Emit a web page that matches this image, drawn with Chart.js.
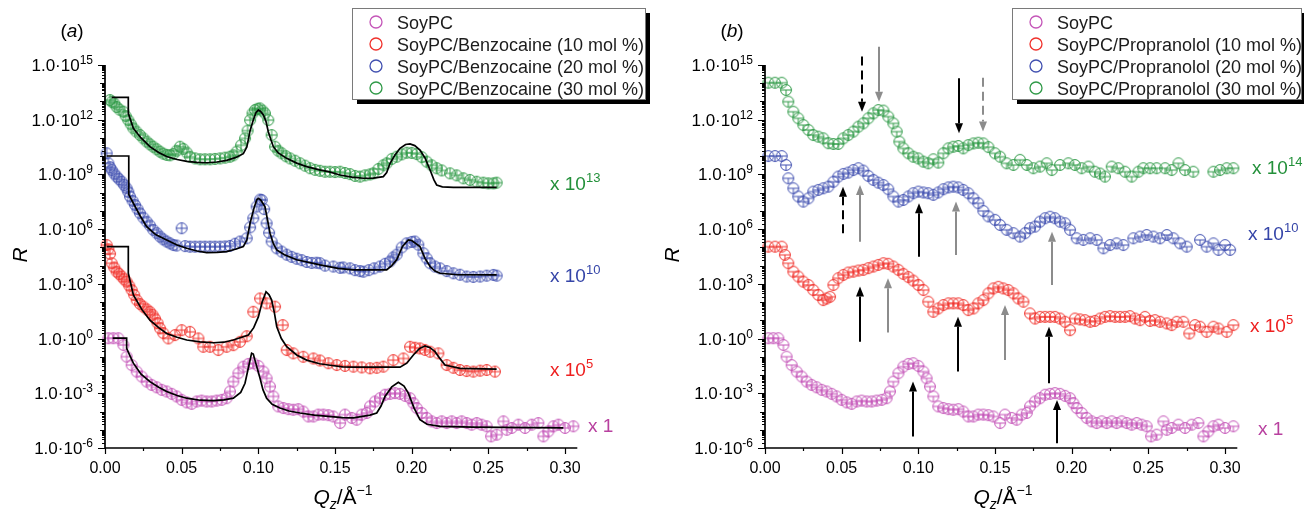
<!DOCTYPE html>
<html>
<head>
<meta charset="utf-8">
<script src="https://cdn.jsdelivr.net/npm/chart.js@4.4.0/dist/chart.umd.min.js"></script>
<style>
  html, body { margin: 0; padding: 0; background: #fff; }
  #wrap { position: relative; width: 1304px; height: 511px; }
  .panel { position: absolute; top: 0; width: 652px; height: 511px; }
</style>
</head>
<body>
<div id="wrap">
  <div class="panel" style="left:0"><canvas id="chartA" width="652" height="511"></canvas></div>
  <div class="panel" style="left:652px"><canvas id="chartB" width="652" height="511"></canvas></div>
</div>
<script>
// ---- data: [Qz, log10 R] before the vertical offset is applied ----
const xTicks = [0, 0.05, 0.10, 0.15, 0.20, 0.25, 0.30];
const xTickLabels = ['0.00', '0.05', '0.10', '0.15', '0.20', '0.25', '0.30'];
const yLabelExps = [-6, -3, 0, 3, 6, 9, 12, 15];

const namesA = ['SoyPC', 'SoyPC/Benzocaine (10 mol %)', 'SoyPC/Benzocaine (20 mol %)', 'SoyPC/Benzocaine (30 mol %)'];
const namesB = ['SoyPC', 'SoyPC/Propranolol (10 mol %)', 'SoyPC/Propranolol (20 mol %)', 'SoyPC/Propranolol (30 mol %)'];
const offsetsA = [0, 5, 10, 13];   // plotted as x 1, x 10^5, x 10^10, x 10^13
const offsetsB = [0, 5, 10, 14];

const soyPC = [[.0022,0.02],[.0054,0.02],[.0087,0.02],[.0120,-0.35],[.0141,-0.99],[.0174,-1.45],[.0207,-1.81],[.0239,-2.08],[.0272,-2.36],[.0304,-2.54],[.0337,-2.67],[.0370,-2.81],[.0402,-2.9],[.0435,-3.03],[.0467,-3.17],[.05,-3.36],[.0533,-3.5],[.0565,-3.58],[.0598,-3.45],[.0630,-3.4],[.0663,-3.45],[.0696,-3.45],[.0728,-3.4],[.0761,-3.36],[.0793,-3.27],[.0815,-2.9],[.0837,-2.36],[.0870,-1.9],[.0902,-1.54],[.0935,-1.39],[.0967,-1.35],[.1,-1.5],[.1033,-1.81],[.1054,-2.18],[.1076,-2.63],[.1098,-3.17],[.1130,-3.72],[.1163,-3.81],[.1196,-3.87],[.1228,-3.9],[.1261,-3.87],[.1293,-4.0],[.1326,-4.27],[.1359,-4.27],[.1391,-4.17],[.1424,-4.17],[.1457,-4.2],[.1489,-4.27],[.1533,-4.63],[.1565,-4.17],[.1609,-4.35],[.1641,-4.45],[.1674,-4.17],[.1707,-4.08],[.1728,-3.72],[.1761,-3.45],[.1793,-3.27],[.1826,-3.08],[.1859,-3.03],[.1891,-2.99],[.1924,-3.03],[.1957,-3.14],[.1989,-3.27],[.2011,-3.54],[.2033,-3.81],[.2065,-4.08],[.2098,-4.35],[.2130,-4.54],[.2163,-4.63],[.2196,-4.54],[.2228,-4.63],[.2261,-4.54],[.2293,-4.63],[.2326,-4.54],[.2359,-4.63],[.2391,-4.72],[.2424,-4.63],[.2456,-4.72],[.2489,-4.81],[.2518,-5.36],[.2554,-5.27],[.2598,-4.54],[.2620,-5.0],[.2652,-4.9],[.2696,-4.72],[.2739,-4.9],[.2783,-4.72],[.2826,-4.63],[.2859,-5.36],[.2891,-5.09],[.2924,-4.81],[.2957,-4.72],[.3,-4.9],[.3054,-4.81]];

const benzo10 = [[.0011,0.13],[.0022,-0.1],[.0033,-0.35],[.0044,-0.87],[.006,-1.1],[.0076,-1.33],[.0092,-1.45],[.0109,-1.6],[.0125,-1.75],[.0141,-1.88],[.0158,-2.1],[.0174,-2.34],[.019,-2.6],[.0207,-2.89],[.0228,-3.1],[.025,-3.25],[.0272,-3.4],[.0293,-3.53],[.031,-3.7],[.0326,-3.9],[.0343,-4.15],[.0359,-4.44],[.038,-4.7],[.0413,-4.99],[.0456,-4.81],[.05,-4.54],[.0554,-4.63],[.0609,-4.99],[.0641,-5.45],[.0685,-5.45],[.0739,-5.63],[.0793,-5.45],[.0837,-5.36],[.088,-5.18],[.0924,-4.87],[.0967,-3.53],[.1011,-2.8],[.1054,-3.07],[.1109,-3.25],[.1159,-4.26],[.1185,-5.63],[.1228,-5.81],[.1293,-6.0],[.1359,-6.09],[.1402,-6.2],[.1457,-6.35],[.1511,-6.45],[.1565,-6.5],[.162,-6.54],[.1674,-6.58],[.1728,-6.63],[.1772,-6.6],[.1815,-6.54],[.188,-6.18],[.1946,-6.09],[.1989,-5.45],[.2021,-5.5],[.2054,-5.54],[.2087,-5.62],[.212,-5.72],[.2174,-5.81],[.2228,-6.45],[.2272,-6.6],[.2315,-6.72],[.2358,-6.78],[.2402,-6.81],[.2446,-6.76],[.2489,-6.72],[.2543,-6.81]];

const benzo20 = [[.0011,0.16],[.0022,-0.39],[.0033,-0.6],[.0044,-0.76],[.006,-0.95],[.0076,-1.12],[.0092,-1.26],[.0109,-1.4],[.0125,-1.58],[.0141,-1.76],[.0152,-1.95],[.0163,-2.21],[.018,-2.45],[.0196,-2.67],[.0212,-2.9],[.0228,-3.13],[.025,-3.37],[.0272,-3.59],[.0293,-3.8],[.0315,-4.04],[.0337,-4.22],[.0359,-4.41],[.038,-4.56],[.0402,-4.68],[.0424,-4.78],[.0446,-4.87],[.0467,-4.9],[.05,-3.95],[.0522,-4.93],[.0554,-4.96],[.0587,-4.96],[.062,-4.96],[.0652,-4.96],[.0685,-4.96],[.0717,-4.96],[.075,-4.96],[.0783,-4.95],[.0815,-4.92],[.0848,-4.8],[.088,-4.68],[.0924,-4.5],[.0946,-3.9],[.0967,-3.4],[.0989,-2.76],[.1011,-2.38],[.1022,-2.4],[.1038,-2.9],[.1054,-3.68],[.107,-4.2],[.1087,-4.68],[.112,-5.05],[.1152,-5.23],[.1185,-5.4],[.1217,-5.52],[.125,-5.62],[.1283,-5.7],[.1315,-5.8],[.1348,-5.85],[.138,-5.84],[.1402,-5.87],[.1435,-6.0],[.1489,-6.05],[.1533,-6.12],[.1554,-6.1],[.1598,-6.15],[.163,-6.25],[.1663,-6.3],[.1685,-6.33],[.172,-6.25],[.1755,-6.15],[.1793,-6.05],[.1826,-5.9],[.1859,-5.77],[.188,-5.55],[.1902,-5.4],[.1935,-5.0],[.1967,-4.78],[.2,-4.7],[.2021,-4.68],[.2043,-4.85],[.2076,-5.32],[.2098,-5.6],[.212,-5.87],[.2152,-6.05],[.2185,-6.15],[.2228,-6.3],[.2272,-6.42],[.2315,-6.5],[.2359,-6.6],[.2402,-6.62],[.2446,-6.6],[.2489,-6.55],[.2533,-6.51],[.2554,-6.55]];

const benzo30 = [[.0033,0.08],[.0044,-0.01],[.0060,-0.1],[.0076,-0.3],[.0095,-0.45],[.012,-0.56],[.0135,-0.8],[.0152,-1.02],[.0168,-1.25],[.0185,-1.47],[.0205,-1.65],[.0228,-1.84],[.025,-2.02],[.0272,-2.2],[.0293,-2.35],[.0315,-2.48],[.0337,-2.62],[.0359,-2.75],[.038,-2.86],[.0402,-2.93],[.0424,-2.95],[.0446,-2.88],[.0467,-2.7],[.0489,-2.48],[.0511,-2.6],[.0533,-2.8],[.0554,-3.03],[.0587,-3.12],[.062,-3.17],[.0652,-3.17],[.0685,-3.17],[.0717,-3.15],[.075,-3.12],[.0783,-3.08],[.0815,-3.03],[.0837,-2.95],[.0859,-2.75],[.0887,-2.4],[.0913,-2.02],[.093,-1.6],[.0946,-1.02],[.0962,-0.65],[.0978,-0.47],[.0995,-0.4],[.101,-0.38],[.1027,-0.5],[.1043,-0.65],[.1065,-1.02],[.1087,-1.84],[.1109,-2.48],[.113,-2.7],[.1152,-2.84],[.118,-3.0],[.1207,-3.12],[.124,-3.25],[.1272,-3.39],[.1305,-3.52],[.1337,-3.66],[.137,-3.75],[.1402,-3.8],[.1435,-3.85],[.1467,-3.85],[.15,-3.87],[.1533,-3.85],[.1565,-3.92],[.1598,-3.98],[.163,-4.08],[.1663,-4.12],[.1696,-4.05],[.1728,-4.0],[.175,-3.94],[.1783,-3.7],[.1815,-3.5],[.1837,-3.39],[.187,-3.15],[.1902,-3.03],[.1935,-2.9],[.1967,-2.81],[.2,-2.82],[.2033,-2.88],[.2065,-3.05],[.2098,-3.3],[.213,-3.5],[.2163,-3.66],[.2196,-3.78],[.225,-3.94],[.2293,-4.05],[.2337,-4.21],[.238,-4.3],[.2424,-4.4],[.2467,-4.45],[.25,-4.49],[.2533,-4.49],[.2554,-4.45]];

// model fits, panel (a)
const soyPCFit = [[.005,0.02],[.0141,0.02],[.0141,-0.53],[.0163,-0.95],[.0185,-1.35],[.0235,-1.95],[.0293,-2.36],[.035,-2.67],[.0402,-2.9],[.047,-3.12],[.0533,-3.27],[.062,-3.38],[.0707,-3.4],[.0775,-3.36],[.0837,-3.27],[.0885,-2.95],[.0913,-2.45],[.0935,-1.6],[.0956,-0.8],[.0967,-0.85],[.0985,-1.4],[.1011,-2.18],[.103,-2.8],[.1054,-3.27],[.109,-3.6],[.1141,-3.81],[.12,-3.97],[.1272,-4.08],[.1365,-4.2],[.1457,-4.27],[.155,-4.33],[.162,-4.35],[.1728,-4.2],[.1772,-4.08],[.18,-3.7],[.1826,-3.17],[.187,-2.65],[.1913,-2.4],[.195,-2.6],[.1978,-2.99],[.2015,-3.8],[.2054,-4.45],[.21,-4.7],[.2185,-4.81],[.24,-4.86],[.2989,-4.9]];
const benzo10Fit = [[.0011,0.04],[.0152,0.04],[.0152,-1.42],[.0185,-2.61],[.024,-3.4],[.0293,-3.99],[.035,-4.4],[.0402,-4.72],[.047,-4.93],[.0533,-5.08],[.062,-5.18],[.0707,-5.23],[.0775,-5.2],[.0837,-5.08],[.0935,-4.81],[.097,-4.4],[.1,-3.81],[.1025,-3.0],[.105,-2.43],[.107,-2.6],[.1087,-2.89],[.1105,-3.6],[.112,-4.35],[.115,-5.0],[.1185,-5.45],[.125,-5.9],[.1315,-6.18],[.14,-6.38],[.1457,-6.45],[.155,-6.55],[.162,-6.57],[.18,-6.57],[.1924,-6.57],[.1968,-6.35],[.2011,-5.9],[.205,-5.55],[.2087,-5.4],[.212,-5.5],[.2152,-5.72],[.2185,-6.1],[.2217,-6.45],[.2315,-6.63],[.2554,-6.67]];
const benzo20Fit = [[.0011,0.01],[.0155,0.01],[.0155,-2.1],[.0185,-2.58],[.0228,-3.25],[.0272,-3.86],[.033,-4.3],[.0402,-4.59],[.047,-4.87],[.0533,-5.05],[.06,-5.2],[.0663,-5.29],[.073,-5.27],[.0793,-5.23],[.085,-5.1],[.0902,-4.96],[.0925,-4.6],[.0946,-3.68],[.097,-2.9],[.0989,-2.4],[.1,-2.31],[.1015,-2.4],[.1043,-2.76],[.106,-3.5],[.1076,-4.22],[.1098,-4.8],[.112,-5.14],[.117,-5.4],[.125,-5.68],[.1402,-5.96],[.152,-6.15],[.162,-6.23],[.1728,-6.23],[.1837,-6.23],[.187,-6.0],[.1902,-5.68],[.194,-4.95],[.1978,-4.59],[.2,-4.62],[.2054,-4.96],[.2087,-5.6],[.212,-6.05],[.2152,-6.3],[.2185,-6.42],[.23,-6.5],[.2554,-6.51]];
const benzo30Fit = [[.0044,0.23],[.0152,0.23],[.0152,-0.65],[.0185,-1.47],[.0235,-2.0],[.0293,-2.48],[.035,-2.8],[.0402,-3.02],[.047,-3.18],[.0533,-3.28],[.06,-3.34],[.0663,-3.36],[.073,-3.32],[.0793,-3.23],[.085,-3.08],[.0902,-2.86],[.0925,-2.5],[.0946,-1.6],[.0967,-1.02],[.0985,-0.6],[.1,-0.47],[.1015,-0.55],[.1033,-0.74],[.105,-1.1],[.1065,-1.66],[.1082,-2.1],[.1098,-2.48],[.113,-2.82],[.1185,-3.12],[.125,-3.38],[.1315,-3.57],[.14,-3.75],[.1457,-3.85],[.1533,-4.03],[.161,-4.15],[.1685,-4.21],[.175,-4.2],[.1815,-4.12],[.1837,-3.9],[.1859,-3.39],[.189,-2.95],[.1924,-2.57],[.196,-2.36],[.1989,-2.33],[.202,-2.42],[.2054,-2.66],[.2087,-3.1],[.212,-3.76],[.2145,-4.3],[.2163,-4.58],[.22,-4.68],[.2272,-4.71],[.24,-4.71],[.2554,-4.71]];

const prop10 = [[.0022,0.04],[.0065,0.04],[.0109,0.04],[.013,-0.41],[.0152,-0.87],[.0185,-1.33],[.0217,-1.6],[.025,-1.88],[.0283,-2.06],[.0315,-2.34],[.0348,-2.61],[.038,-2.89],[.0402,-2.8],[.0424,-2.71],[.0446,-2.06],[.0478,-1.69],[.0511,-1.51],[.0543,-1.38],[.0576,-1.33],[.0609,-1.27],[.0641,-1.23],[.0674,-1.14],[.0707,-1.05],[.0739,-0.96],[.0772,-0.87],[.0804,-0.9],[.0837,-1.05],[.087,-1.23],[.0902,-1.45],[.0935,-1.63],[.0967,-1.82],[.1,-2.06],[.1033,-2.34],[.1065,-2.98],[.1098,-3.53],[.113,-3.35],[.1163,-3.16],[.1196,-3.07],[.1228,-3.07],[.1261,-3.07],[.1293,-3.16],[.1326,-3.44],[.1359,-3.35],[.1391,-3.07],[.1424,-2.89],[.1457,-2.52],[.1489,-2.25],[.1522,-2.16],[.1554,-2.25],[.1587,-2.34],[.162,-2.52],[.1652,-2.8],[.1685,-2.98],[.1728,-3.62],[.1761,-3.9],[.1793,-3.81],[.1826,-3.81],[.1859,-3.81],[.1891,-3.81],[.1924,-3.9],[.1957,-4.08],[.1989,-4.54],[.2021,-3.9],[.2054,-3.95],[.2087,-3.99],[.212,-4.08],[.2152,-4.03],[.2185,-3.9],[.2217,-3.81],[.225,-3.77],[.2283,-3.81],[.2315,-3.81],[.2348,-3.81],[.238,-3.77],[.2413,-3.9],[.2446,-3.99],[.2478,-3.81],[.2511,-4.03],[.2543,-3.99],[.2576,-4.08],[.262,-4.17],[.2652,-4.26],[.2685,-4.08],[.2728,-4.08],[.2767,-4.72],[.2804,-4.26],[.2837,-4.35],[.288,-4.63],[.2924,-4.35],[.2957,-4.45],[.3011,-4.63],[.3054,-4.26]];

const prop20 = [[.0022,0.01],[.0065,0.01],[.0109,0.01],[.0137,-0.48],[.0152,-1.21],[.0185,-1.76],[.0217,-2.21],[.025,-2.49],[.0283,-2.31],[.0315,-1.94],[.0348,-1.85],[.038,-1.76],[.0413,-1.67],[.0446,-1.4],[.0478,-1.12],[.0511,-0.97],[.0543,-0.9],[.0576,-0.76],[.0609,-0.66],[.0641,-0.79],[.0674,-1.08],[.0707,-1.3],[.0739,-1.45],[.0772,-1.58],[.0804,-1.81],[.0837,-2.21],[.087,-2.49],[.0902,-2.4],[.0935,-2.21],[.0967,-2.03],[.1,-1.94],[.1033,-1.99],[.1065,-2.03],[.1098,-2.12],[.113,-1.99],[.1163,-1.81],[.1196,-1.71],[.1228,-1.67],[.1261,-1.71],[.1293,-1.85],[.1326,-2.03],[.1359,-2.31],[.1391,-2.58],[.1424,-3.0],[.1457,-3.3],[.15,-3.49],[.1533,-3.77],[.1576,-4.04],[.162,-4.22],[.1663,-4.41],[.1696,-4.22],[.1728,-3.95],[.1761,-3.86],[.1793,-3.59],[.1826,-3.4],[.1859,-3.32],[.1891,-3.4],[.1924,-3.59],[.1957,-3.68],[.1989,-4.04],[.2033,-4.5],[.2076,-4.59],[.212,-4.5],[.2163,-4.59],[.2207,-5.05],[.225,-4.87],[.2293,-4.78],[.2337,-4.87],[.2402,-4.5],[.2446,-4.41],[.2489,-4.32],[.2533,-4.41],[.2576,-4.5],[.262,-4.32],[.2663,-4.5],[.2707,-4.78],[.275,-4.96],[.2837,-4.59],[.288,-4.96],[.2924,-4.78],[.2957,-5.14],[.3,-4.87],[.3033,-5.14]];

const prop30 = [[.0022,0.03],[.0065,0.03],[.0109,0.03],[.0137,-0.37],[.0152,-1.01],[.0185,-1.56],[.0217,-1.92],[.025,-2.29],[.0283,-2.56],[.0315,-2.84],[.0348,-2.93],[.038,-3.02],[.0413,-3.29],[.0446,-3.33],[.0478,-3.33],[.0511,-3.02],[.0543,-2.84],[.0576,-2.65],[.0609,-2.38],[.0641,-2.2],[.0674,-1.92],[.0707,-1.65],[.0739,-1.47],[.0772,-1.5],[.0804,-1.83],[.0837,-2.2],[.0859,-2.65],[.0876,-3.2],[.0902,-3.57],[.0935,-3.84],[.0967,-4.03],[.1,-4.12],[.1033,-4.3],[.1065,-4.39],[.1098,-4.17],[.113,-4.35],[.1163,-3.84],[.1196,-3.57],[.1228,-3.48],[.1261,-3.44],[.1293,-3.57],[.1326,-3.39],[.1359,-3.3],[.1391,-3.26],[.1424,-3.3],[.1457,-3.5],[.15,-3.84],[.1533,-4.03],[.1576,-4.39],[.162,-4.48],[.1663,-4.2],[.1707,-4.48],[.175,-4.66],[.1793,-4.57],[.1837,-4.39],[.187,-4.76],[.1924,-4.48],[.1978,-4.39],[.2021,-4.48],[.2065,-4.66],[.2109,-4.57],[.2152,-4.85],[.2185,-4.95],[.2217,-5.12],[.2261,-4.57],[.2304,-4.66],[.2348,-4.85],[.2391,-5.12],[.2435,-4.85],[.2467,-4.66],[.2511,-4.66],[.2554,-4.66],[.2609,-4.66],[.2652,-4.76],[.2696,-4.39],[.2739,-4.76],[.2793,-4.85],[.2924,-4.85],[.2967,-4.76],[.3011,-4.66],[.3054,-4.66]];

// peak markers in panel (b): Qz, start and tip in plotted log10 R
const arrowsB = [
  { q: .0635, from: 15.46, to: 12.44, gray: false, dashed: true },
  { q: .0746, from: 16.0,  to: 12.99, gray: true,  dashed: false },
  { q: .1268, from: 14.27, to: 11.26, gray: false, dashed: false },
  { q: .1420, from: 14.3,  to: 11.35, gray: true,  dashed: true },
  { q: .0507, from: 5.77,  to: 8.33,  gray: false, dashed: true },
  { q: .0620, from: 5.31,  to: 8.42,  gray: true,  dashed: false },
  { q: .1007, from: 4.49,  to: 7.42,  gray: false, dashed: false },
  { q: .1246, from: 4.58,  to: 7.51,  gray: true,  dashed: false },
  { q: .1870, from: 2.94,  to: 5.86,  gray: true,  dashed: false },
  { q: .0620, from: -0.17, to: 2.85,  gray: false, dashed: false },
  { q: .0804, from: 0.33,  to: 3.31,  gray: true,  dashed: false },
  { q: .1257, from: -1.81, to: 1.2,   gray: false, dashed: false },
  { q: .1565, from: -1.17, to: 1.84,  gray: true,  dashed: false },
  { q: .1854, from: -2.45, to: 0.65,  gray: false, dashed: false },
  { q: .0967, from: -5.37, to: -2.36, gray: false, dashed: false },
  { q: .1907, from: -5.74, to: -3.37, gray: false, dashed: false }
];

// ---- styling ----
const FONT = '"Liberation Sans", Arial, Helvetica, sans-serif';
const markerColors = ['#c455b8', '#f0322c', '#4150b0', '#2f9a47'];
const textColors = ['#b8409f', '#ee2020', '#3545a8', '#23903a'];

function font(size, italic) {
  return (italic ? 'italic ' : '') + size + 'px ' + FONT;
}

function makeMarker(color, kind) {
  const c = document.createElement('canvas');
  c.width = 14; c.height = 14;
  const g = c.getContext('2d');
  g.strokeStyle = color;
  g.lineWidth = 1;
  g.beginPath();
  g.arc(7, 7, 5.4, 0, Math.PI * 2);
  g.moveTo(1.6, 7); g.lineTo(12.4, 7);
  if (kind === 'plus') { g.moveTo(7, 1.6); g.lineTo(7, 12.4); }
  else { g.moveTo(7, 7); g.lineTo(7, 12.4); }
  g.stroke();
  return c;
}

function toPoints(arr, off) {
  return arr.map(p => ({ x: p[0], y: Math.pow(10, p[1] + off) }));
}

// text made of runs with their own size / offset
function drawRuns(ctx, runs, x, y, align) {
  let total = 0;
  runs.forEach(r => {
    ctx.font = font(r.size, r.italic);
    r.w = ctx.measureText(r.t).width;
    total += r.w + (r.gap || 0);
  });
  let cx = align === 'right' ? x - total : align === 'center' ? x - total / 2 : x;
  ctx.textAlign = 'left';
  ctx.textBaseline = 'alphabetic';
  runs.forEach(r => {
    ctx.font = font(r.size, r.italic);
    ctx.fillText(r.t, cx, y + (r.dy || 0));
    cx += r.w + (r.gap || 0);
  });
}

function drawAxes(chart) {
  const { ctx, chartArea: a } = chart;
  const xs = chart.scales.x, ys = chart.scales.y;
  ctx.save();
  ctx.strokeStyle = '#000';
  ctx.fillStyle = '#000';
  ctx.lineWidth = 1.2;
  ctx.beginPath();
  for (let n = -6; n <= 15; n++) {
    for (let k = 1; k <= 9; k++) {
      if (n === 15 && k > 1) break;
      const py = Math.round(ys.getPixelForValue(k * Math.pow(10, n))) + 0.5;
      const len = k === 1 ? (n % 3 === 0 ? 7 : 5) : 3;
      ctx.moveTo(a.left, py);
      ctx.lineTo(a.left - len, py);
    }
  }
  xTicks.forEach((q, i) => {
    const px = Math.round(xs.getPixelForValue(q)) + 0.5;
    ctx.moveTo(px, a.bottom); ctx.lineTo(px, a.bottom + 6);
    if (i < xTicks.length - 1) {
      const pm = Math.round(xs.getPixelForValue(q + 0.025)) + 0.5;
      ctx.moveTo(pm, a.bottom); ctx.lineTo(pm, a.bottom + 3);
    }
  });
  ctx.stroke();
  ctx.lineWidth = 1.7;
  ctx.beginPath();
  ctx.moveTo(a.left, a.top);
  ctx.lineTo(a.left, a.bottom);
  ctx.lineTo(a.right, a.bottom);
  ctx.stroke();

  yLabelExps.forEach(e => {
    const py = ys.getPixelForValue(Math.pow(10, e));
    drawRuns(ctx, [{ t: '1.0\u00b710', size: 17 }, { t: String(e), size: 12, dy: -7 }], a.left - 12, py + 6, 'right');
  });
  ctx.font = font(16);
  ctx.textAlign = 'center';
  xTicks.forEach((q, i) => {
    ctx.fillText(xTickLabels[i], xs.getPixelForValue(q), a.bottom + 25);
  });

  // axis titles
  drawRuns(ctx, [
    { t: 'Q', size: 21, italic: true },
    { t: 'z', size: 14, italic: true, dy: 5 },
    { t: '/\u00c5', size: 21 },
    { t: '\u22121', size: 14, dy: -9 }
  ], a.left + 238, 504, 'center');
  ctx.save();
  ctx.translate(20, 255);
  ctx.rotate(-Math.PI / 2);
  ctx.font = font(21, true);
  ctx.textAlign = 'center';
  ctx.fillText('R', 0, 7);
  ctx.restore();
  ctx.restore();
}

function drawLegend(ctx, box, names) {
  ctx.save();
  ctx.fillStyle = '#000';
  ctx.fillRect(box.x + 5, box.y + 5, box.w, box.h);
  ctx.fillStyle = '#fff';
  ctx.fillRect(box.x, box.y, box.w, box.h);
  ctx.strokeStyle = '#7a7a7a';
  ctx.lineWidth = 1;
  ctx.strokeRect(box.x + 0.5, box.y + 0.5, box.w, box.h);
  names.forEach((n, i) => {
    const cy = box.y + 14 + i * 22;
    ctx.strokeStyle = markerColors[i];
    ctx.lineWidth = 1.3;
    ctx.beginPath();
    ctx.arc(box.x + 24, cy, 6, 0, Math.PI * 2);
    ctx.stroke();
    ctx.fillStyle = '#1c1c1c';
    ctx.font = font(18);
    ctx.textAlign = 'left';
    ctx.fillText(n, box.x + 45, cy + 6.5);
  });
  ctx.restore();
}

function drawFactor(ctx, color, exp, x, y) {
  ctx.save();
  ctx.fillStyle = color;
  if (exp === 0) drawRuns(ctx, [{ t: 'x 1', size: 19 }], x, y, 'left');
  else drawRuns(ctx, [{ t: 'x 10', size: 19 }, { t: String(exp), size: 13, dy: -8 }], x, y, 'left');
  ctx.restore();
}

function drawArrow(ctx, px, y1, y2, color, dashed) {
  const dir = y2 > y1 ? 1 : -1;
  const head = 10;
  ctx.save();
  ctx.strokeStyle = color;
  ctx.fillStyle = color;
  ctx.lineWidth = 2;
  if (dashed) ctx.setLineDash([9, 5]);
  ctx.beginPath();
  ctx.moveTo(px, y1);
  ctx.lineTo(px, y2 - dir * head);
  ctx.stroke();
  ctx.setLineDash([]);
  ctx.beginPath();
  ctx.moveTo(px, y2);
  ctx.lineTo(px - 4, y2 - dir * head);
  ctx.lineTo(px + 4, y2 - dir * head);
  ctx.closePath();
  ctx.fill();
  ctx.restore();
}

function panelPlugin(cfg) {
  return {
    id: 'panel' + cfg.tag,
    afterDatasetsDraw(chart) {
      drawAxes(chart);
      const ctx = chart.ctx;
      if (cfg.arrows) {
        const xs = chart.scales.x, ys = chart.scales.y;
        cfg.arrows.forEach(ar => {
          drawArrow(ctx, Math.round(xs.getPixelForValue(ar.q)),
            ys.getPixelForValue(Math.pow(10, ar.from)),
            ys.getPixelForValue(Math.pow(10, ar.to)),
            ar.gray ? '#8c8c8c' : '#000', ar.dashed);
        });
      }
    },
    afterDraw(chart) {
      const ctx = chart.ctx;
      drawLegend(ctx, cfg.legend, cfg.names);
      cfg.factors.forEach((f, i) => drawFactor(ctx, textColors[i], cfg.offsets[i], f[0], f[1]));
      ctx.save();
      ctx.fillStyle = '#000';
      drawRuns(ctx, [{ t: '(', size: 19 }, { t: cfg.tag, size: 19, italic: true }, { t: ')', size: 19 }], cfg.tagX, 37, 'center');
      ctx.restore();
    }
  };
}

function buildChart(id, cfg) {
  const datasets = [];
  cfg.series.forEach((s, i) => {
    datasets.push({
      label: cfg.names[i],
      data: toPoints(s, cfg.offsets[i]),
      pointStyle: makeMarker(markerColors[i], cfg.marker),
      pointRadius: 5,
      showLine: false,
      clip: 10,
      order: 1
    });
  });
  (cfg.fits || []).forEach((s, i) => {
    datasets.push({
      label: cfg.names[i] + ' fit',
      data: toPoints(s, cfg.offsets[i]),
      showLine: true,
      borderColor: '#000',
      borderWidth: 1.7,
      pointRadius: 0,
      tension: 0,
      clip: 10,
      order: 0
    });
  });
  return new Chart(document.getElementById(id), {
    type: 'scatter',
    data: { datasets },
    options: {
      responsive: false,
      animation: false,
      devicePixelRatio: 1,
      events: [],
      layout: { padding: cfg.padding },
      scales: {
        x: { type: 'linear', min: 0, max: 0.308, display: false },
        y: { type: 'logarithmic', min: 1e-6, max: 1e15, display: false }
      },
      plugins: { legend: { display: false }, tooltip: { enabled: false } }
    },
    plugins: [panelPlugin(cfg)]
  });
}

buildChart('chartA', {
  tag: 'a',
  tagX: 72,
  names: namesA,
  offsets: offsetsA,
  series: [soyPC, benzo10, benzo20, benzo30],
  fits: [soyPCFit, benzo10Fit, benzo20Fit, benzo30Fit],
  marker: 'plus',
  padding: { left: 105, right: 74.7, top: 65, bottom: 63 },
  legend: { x: 352, y: 8, w: 293, h: 91 },
  factors: [[588, 432], [550, 376], [550, 282], [550, 190]]
});

buildChart('chartB', {
  tag: 'b',
  tagX: 80,
  names: namesB,
  offsets: offsetsB,
  series: [soyPC, prop10, prop20, prop30],
  arrows: arrowsB,
  marker: 'tee',
  padding: { left: 113, right: 66.7, top: 65, bottom: 63 },
  legend: { x: 360, y: 8, w: 289, h: 91 },
  factors: [[606, 435], [598, 332], [596, 240], [600, 174]]
});
</script>
</body>
</html>
